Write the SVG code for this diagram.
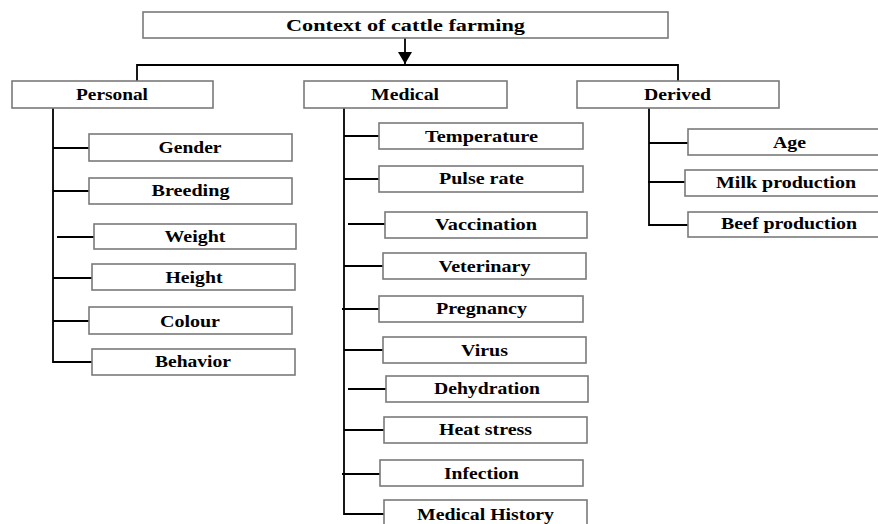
<svg xmlns="http://www.w3.org/2000/svg" width="878" height="524" viewBox="0 0 878 524">
<defs>
<style>
.box{fill:#fff;stroke:#7a7a7a;stroke-width:1.6}
.t{font-family:"Liberation Serif","Times New Roman",serif;font-weight:bold;font-size:16.5px;fill:#000;text-anchor:middle}
.c{fill:none;stroke:#000;stroke-width:1.8}
</style>
<marker id="ah" markerWidth="12" markerHeight="14" refX="12" refY="7" orient="auto" markerUnits="userSpaceOnUse">
<path d="M0,0 L12,7 L0,14 Z" fill="#000"/>
</marker>
</defs>
<rect width="878" height="524" fill="#fff"/>
<g id="connectors">
<path class="c" d="M405,38 V64" marker-end="url(#ah)"/>
<path class="c" d="M137,81 V65 H678 V81"/>
<path class="c" d="M53,108 V362 H92"/>
<path class="c" d="M53,148 H89 M53,191 H89 M57,237 H94 M53,278 H92 M53,321 H89"/>
<path class="c" d="M344,108 V514 H384"/>
<path class="c" d="M344,136 H379 M344,179 H379 M348,224 H385 M344,266 H383 M342,309 H379 M344,350 H383 M348,389 H386 M344,430 H384 M342,474 H380"/>
<path class="c" d="M649,108 V225 H688"/>
<path class="c" d="M649,143 H688 M648,182 H685"/>
</g>
<g id="root"><rect class="box" x="143" y="12" width="525" height="26"/><text class="t" x="405.5" y="31" textLength="239" lengthAdjust="spacingAndGlyphs">Context of cattle farming</text></g>
<g id="personal"><rect class="box" x="12" y="81" width="201" height="27"/><text class="t" x="112" y="100" textLength="72" lengthAdjust="spacingAndGlyphs">Personal</text></g>
<g id="medical"><rect class="box" x="304" y="81" width="203" height="27"/><text class="t" x="405" y="100" textLength="68" lengthAdjust="spacingAndGlyphs">Medical</text></g>
<g id="derived"><rect class="box" x="577" y="81" width="202" height="27"/><text class="t" x="677.5" y="100" textLength="67" lengthAdjust="spacingAndGlyphs">Derived</text></g>
<g id="gender"><rect class="box" x="89" y="134" width="203" height="27"/><text class="t" x="190" y="153" textLength="63" lengthAdjust="spacingAndGlyphs">Gender</text></g>
<g id="breeding"><rect class="box" x="89" y="178" width="203" height="26"/><text class="t" x="190.5" y="196" textLength="78" lengthAdjust="spacingAndGlyphs">Breeding</text></g>
<g id="weight"><rect class="box" x="94" y="224" width="202" height="25"/><text class="t" x="195" y="242" textLength="61" lengthAdjust="spacingAndGlyphs">Weight</text></g>
<g id="height"><rect class="box" x="92" y="264" width="203" height="26"/><text class="t" x="194" y="283" textLength="57" lengthAdjust="spacingAndGlyphs">Height</text></g>
<g id="colour"><rect class="box" x="89" y="307" width="203" height="27"/><text class="t" x="190" y="327" textLength="60" lengthAdjust="spacingAndGlyphs">Colour</text></g>
<g id="behavior"><rect class="box" x="92" y="349" width="203" height="26"/><text class="t" x="193" y="367" textLength="76" lengthAdjust="spacingAndGlyphs">Behavior</text></g>
<g id="temperature"><rect class="box" x="379" y="123" width="204" height="26"/><text class="t" x="481.5" y="142" textLength="113" lengthAdjust="spacingAndGlyphs">Temperature</text></g>
<g id="pulse"><rect class="box" x="379" y="166" width="204" height="26"/><text class="t" x="481.5" y="184" textLength="85" lengthAdjust="spacingAndGlyphs">Pulse rate</text></g>
<g id="vaccination"><rect class="box" x="385" y="212" width="202" height="26"/><text class="t" x="486" y="230" textLength="102" lengthAdjust="spacingAndGlyphs">Vaccination</text></g>
<g id="veterinary"><rect class="box" x="383" y="253" width="203" height="26"/><text class="t" x="484.5" y="272" textLength="92" lengthAdjust="spacingAndGlyphs">Veterinary</text></g>
<g id="pregnancy"><rect class="box" x="379" y="296" width="204" height="26"/><text class="t" x="481.5" y="314" textLength="91" lengthAdjust="spacingAndGlyphs">Pregnancy</text></g>
<g id="virus"><rect class="box" x="383" y="337" width="203" height="26"/><text class="t" x="484.5" y="356" textLength="47" lengthAdjust="spacingAndGlyphs">Virus</text></g>
<g id="dehydration"><rect class="box" x="386" y="376" width="202" height="26"/><text class="t" x="487" y="394" textLength="106" lengthAdjust="spacingAndGlyphs">Dehydration</text></g>
<g id="heatstress"><rect class="box" x="384" y="417" width="203" height="26"/><text class="t" x="485.5" y="435" textLength="93" lengthAdjust="spacingAndGlyphs">Heat stress</text></g>
<g id="infection"><rect class="box" x="380" y="460" width="203" height="26"/><text class="t" x="481.5" y="479" textLength="75" lengthAdjust="spacingAndGlyphs">Infection</text></g>
<g id="history"><rect class="box" x="384" y="500" width="203" height="30"/><text class="t" x="485.5" y="520" textLength="137" lengthAdjust="spacingAndGlyphs">Medical History</text></g>
<g id="age"><rect class="box" x="688" y="129" width="203" height="26"/><text class="t" x="789.5" y="148" textLength="33" lengthAdjust="spacingAndGlyphs">Age</text></g>
<g id="milk"><rect class="box" x="685" y="170" width="203" height="26"/><text class="t" x="786" y="188" textLength="140" lengthAdjust="spacingAndGlyphs">Milk production</text></g>
<g id="beef"><rect class="box" x="688" y="212" width="203" height="25"/><text class="t" x="789" y="229" textLength="136" lengthAdjust="spacingAndGlyphs">Beef production</text></g>
</svg>
